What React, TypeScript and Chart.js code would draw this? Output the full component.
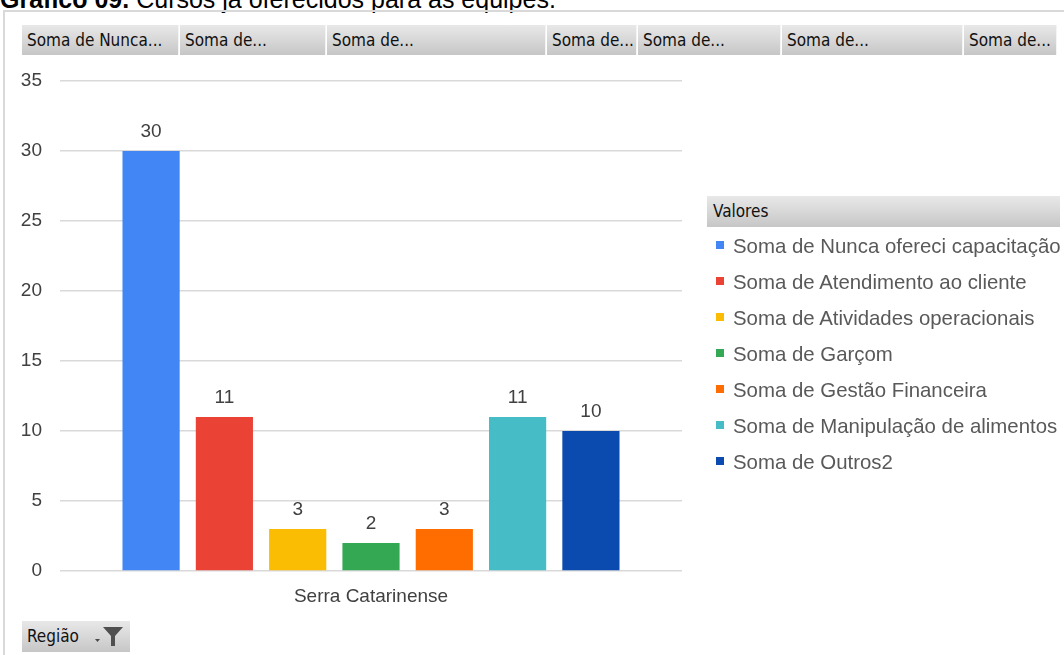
import React, { useEffect, useRef } from "react";
import { Chart, registerables } from "chart.js";

Chart.register(...registerables);

const categories = ["Serra Catarinense"];
const seriesNames = [
  "Soma de Nunca ofereci capacitação",
  "Soma de Atendimento ao cliente",
  "Soma de Atividades operacionais",
  "Soma de Garçom",
  "Soma de Gestão Financeira",
  "Soma de Manipulação de alimentos",
  "Soma de Outros2",
];
const seriesValues = [30, 11, 3, 2, 3, 11, 10];
const seriesColors = ["#4285F4", "#EA4335", "#FBBC04", "#34A853", "#FF6D01", "#46BDC6", "#0B4AAF"];
const fieldButtons = [
  "Soma de Nunca...",
  "Soma de...",
  "Soma de...",
  "Soma de...",
  "Soma de...",
  "Soma de...",
  "Soma de...",
];
const yMin = 0;
const yMax = 35;
const yStep = 5;

const buttonEdges = [22, 180, 327, 547, 638, 782, 964, 1058];

const btnFont = '"DejaVu Sans Condensed", "DejaVu Sans", sans-serif';
const chartFont = '"Liberation Sans", Arial, sans-serif';

const valueLabels = {
  id: "valueLabels",
  afterDatasetsDraw(chart: any) {
    const ctx = chart.ctx;
    ctx.save();
    ctx.font = `19px ${chartFont}`;
    ctx.fillStyle = "#404040";
    ctx.textAlign = "center";
    ctx.textBaseline = "alphabetic";
    chart.data.datasets.forEach((ds: any, i: number) => {
      const meta = chart.getDatasetMeta(i);
      meta.data.forEach((bar: any, j: number) => {
        ctx.fillText(String(ds.data[j]), bar.x, bar.y - 14);
      });
    });
    ctx.restore();
  },
};

export default function App() {
  const canvasRef = useRef<HTMLCanvasElement | null>(null);

  useEffect(() => {
    if (!canvasRef.current) return;
    const chart = new Chart(canvasRef.current, {
      type: "bar",
      data: {
        labels: categories,
        datasets: seriesNames.map((name, i) => ({
          label: name,
          data: [seriesValues[i]],
          backgroundColor: seriesColors[i],
          borderWidth: 0,
          categoryPercentage: 0.825,
          barPercentage: 0.78,
        })),
      },
      options: {
        animation: false,
        responsive: false,
        devicePixelRatio: 1,
        layout: { padding: { top: 81, right: 382, left: 0, bottom: 0 } },
        plugins: { legend: { display: false }, tooltip: { enabled: false }, title: { display: false } },
        scales: {
          y: {
            min: yMin,
            max: yMax,
            ticks: { stepSize: yStep, font: { size: 19, family: chartFont }, color: "#404040", padding: 18 },
            grid: { color: "#d9d9d9", lineWidth: 1.5, drawTicks: false },
            border: { display: false },
            afterFit: (s: any) => {
              s.width = 60;
            },
          },
          x: {
            ticks: { font: { size: 19, family: chartFont }, color: "#404040", padding: 14 },
            grid: { display: false, drawTicks: false },
            border: { display: false },
            afterFit: (s: any) => {
              s.height = 84;
            },
          },
        },
      },
      plugins: [valueLabels],
    } as any);
    return () => chart.destroy();
  }, []);

  const grad = "linear-gradient(to bottom, #e8e8e8 0%, #d6d6d6 55%, #c6c6c6 100%)";

  return (
    <div style={{ position: "absolute", left: 0, top: 0, width: 1064, height: 655, background: "#fff", overflow: "hidden" }}>
      <div
        style={{
          position: "absolute",
          left: 0,
          top: -14,
          fontFamily: chartFont,
          fontSize: 25,
          lineHeight: "26px",
          whiteSpace: "nowrap",
          color: "#000",
        }}
      >
        <b>Gráfico 09.</b> Cursos já oferecidos para as equipes.
      </div>
      <div style={{ position: "absolute", left: 4, top: 10, width: 1060, height: 2, background: "#d9d9d9" }} />
      <div style={{ position: "absolute", left: 3, top: 10, width: 2, height: 645, background: "#d9d9d9" }} />

      {fieldButtons.map((t, i) => (
        <div
          key={i}
          style={{
            position: "absolute",
            left: buttonEdges[i],
            top: 25,
            width: buttonEdges[i + 1] - buttonEdges[i] - 1,
            height: 30,
            background: grad,
            borderRight: "1px solid #f4f4f4",
            fontFamily: btnFont,
            fontSize: 17,
            lineHeight: "30px",
            color: "#111",
            paddingLeft: 5,
            boxSizing: "border-box",
            whiteSpace: "nowrap",
            overflow: "hidden",
          }}
        >
          {t}
        </div>
      ))}

      <canvas ref={canvasRef} width={1064} height={655} style={{ position: "absolute", left: 0, top: 0, width: 1064, height: 655 }} />

      <div
        style={{
          position: "absolute",
          left: 707,
          top: 196,
          width: 353,
          height: 31,
          background: grad,
          fontFamily: btnFont,
          fontSize: 17,
          lineHeight: "31px",
          color: "#111",
          paddingLeft: 6,
          boxSizing: "border-box",
        }}
      >
        Valores
      </div>
      {seriesNames.map((name, i) => (
        <div
          key={name}
          style={{
            position: "absolute",
            left: 716,
            top: 246 + 36 * i - 14,
            height: 28,
            display: "flex",
            alignItems: "center",
            whiteSpace: "nowrap",
          }}
        >
          <div style={{ width: 8, height: 8, background: seriesColors[i], marginRight: 9, marginTop: -2 }} />
          <span style={{ fontFamily: chartFont, fontSize: 20.4, color: "#595959", lineHeight: "28px" }}>{name}</span>
        </div>
      ))}

      <div
        style={{
          position: "absolute",
          left: 22,
          top: 621,
          width: 108,
          height: 31,
          background: grad,
          fontFamily: btnFont,
          fontSize: 17,
          lineHeight: "31px",
          color: "#111",
          paddingLeft: 5,
          boxSizing: "border-box",
        }}
      >
        Região
        <svg width="30" height="22" viewBox="0 0 30 22" style={{ position: "absolute", left: 72, top: 5 }}>
          <polygon points="1,13 6,13 3.5,16" fill="#4a4a4a" />
          <polygon points="9,1 29,1 21,10 21,20 17,20 17,10" fill="#505050" />
        </svg>
      </div>
    </div>
  );
}
